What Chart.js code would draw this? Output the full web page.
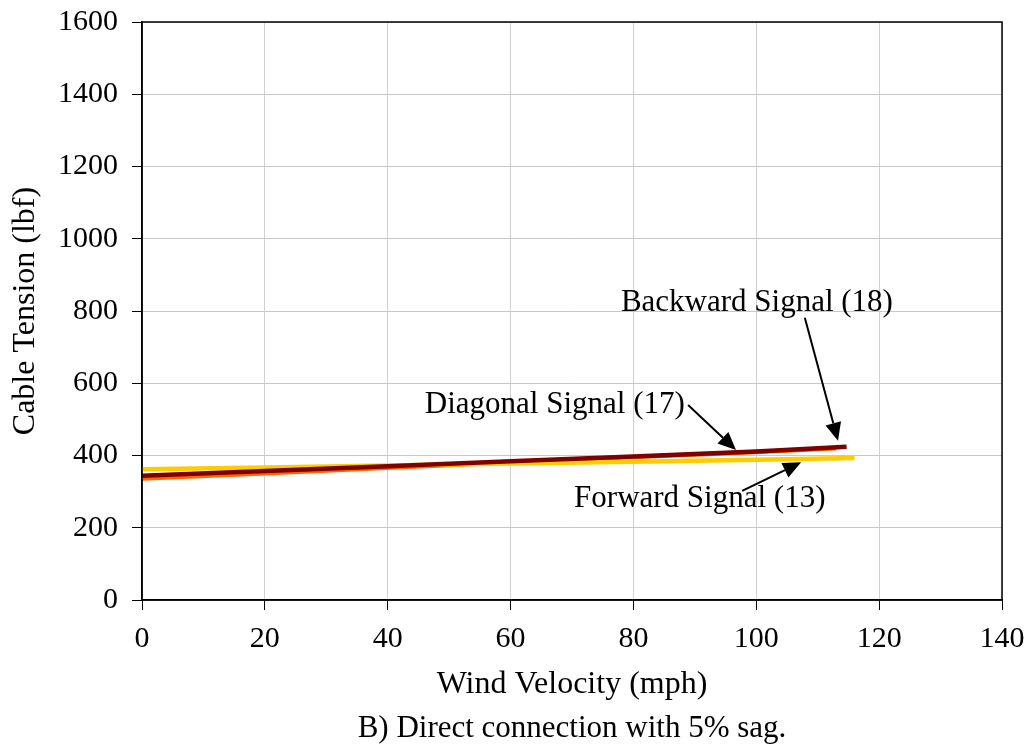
<!DOCTYPE html>
<html>
<head>
<meta charset="utf-8">
<script src="https://cdn.jsdelivr.net/npm/chart.js@4/dist/chart.umd.min.js"></script>
<style>
  html, body { margin: 0; padding: 0; background: #fff; }
  #wrap { width: 1030px; height: 747px; }
</style>
</head>
<body>
<div id="wrap"><canvas id="tensionChart" width="1030" height="747"></canvas></div>
<script>
// values (wind velocity mph -> cable tension lbf)
const forwardX = [0, 20, 40, 60, 80, 100, 116];
const forwardY = [362, 367, 372, 378, 383, 388, 393];
const diagonalX = [0, 20, 40, 60, 80, 100, 113];
const diagonalY = [336, 351, 366, 381, 396, 410, 420];
const backwardX = [0, 20, 40, 60, 80, 100, 114.7];
const backwardY = [344, 357, 370, 384, 397, 411, 424];

const xTicks = [0, 20, 40, 60, 80, 100, 120, 140];
const yTicks = [0, 200, 400, 600, 800, 1000, 1200, 1400, 1600];

// callouts: text anchor, arrow start, arrow tip (data units)
const callouts = [
    { text: 'Backward Signal (18)', tx: 100.1, ty: 822, from: [107.9, 781], to: [113.3, 441] },
    { text: 'Diagonal Signal (17)', tx: 67.2, ty: 540, from: [88.9, 540], to: [96.7, 415] },
    { text: 'Forward Signal (13)', tx: 90.8, ty: 280, from: [97.7, 302], to: [107.3, 381] }
];
const caption = 'B) Direct connection with 5% sag.';

function pts(xs, ys) {
    return xs.map((x, i) => ({ x: x, y: ys[i] }));
}

const FONT = '"Liberation Serif", "Times New Roman", serif';
const FS = 31;

// frame round the plot, arrow callouts and the caption under the chart
const extras = {
    id: 'extras',
    afterDatasetsDraw(chart) {
        const ctx = chart.ctx;
        const a = chart.chartArea;
        const xs = chart.scales.x, ys = chart.scales.y;
        ctx.save();
        ctx.strokeStyle = '#000';
        ctx.lineWidth = 1.5;
        ctx.strokeRect(a.left, a.top, a.right - a.left, a.bottom - a.top);

        ctx.font = FS + 'px ' + FONT;
        ctx.fillStyle = '#000';
        ctx.textAlign = 'center';
        ctx.textBaseline = 'middle';
        callouts.forEach(c => {
            ctx.fillText(c.text, xs.getPixelForValue(c.tx), ys.getPixelForValue(c.ty));
            const x1 = xs.getPixelForValue(c.from[0]), y1 = ys.getPixelForValue(c.from[1]);
            const x2 = xs.getPixelForValue(c.to[0]), y2 = ys.getPixelForValue(c.to[1]);
            const ang = Math.atan2(y2 - y1, x2 - x1);
            const head = 18, half = 8;
            const bx = x2 - head * Math.cos(ang), by = y2 - head * Math.sin(ang);
            ctx.lineWidth = 2;
            ctx.beginPath();
            ctx.moveTo(x1, y1);
            ctx.lineTo(bx, by);
            ctx.stroke();
            ctx.beginPath();
            ctx.moveTo(x2, y2);
            ctx.lineTo(bx + half * Math.sin(ang), by - half * Math.cos(ang));
            ctx.lineTo(bx - half * Math.sin(ang), by + half * Math.cos(ang));
            ctx.closePath();
            ctx.fill();
        });

        ctx.textBaseline = 'alphabetic';
        ctx.fillText(caption, (a.left + a.right) / 2, 737);
        ctx.restore();
    }
};

const ctx = document.getElementById('tensionChart').getContext('2d');
const tensionChart = new Chart(ctx, {
    type: 'line',
    data: {
        datasets: [
            { label: 'Diagonal Signal (17)', data: pts(diagonalX, diagonalY), borderColor: '#ff6600', borderWidth: 4.5, pointRadius: 0, fill: false, order: 2 },
            { label: 'Forward Signal (13)', data: pts(forwardX, forwardY), borderColor: '#ffcc00', borderWidth: 4.5, pointRadius: 0, fill: false, order: 1 },
            { label: 'Backward Signal (18)', data: pts(backwardX, backwardY), borderColor: '#800000', borderWidth: 4.5, pointRadius: 0, fill: false, order: 0 }
        ]
    },
    options: {
        responsive: false,
        animation: false,
        layout: { padding: { left: 0, right: 28, top: 22, bottom: 46 } },
        plugins: {
            legend: { display: false },
            tooltip: { enabled: false }
        },
        scales: {
            x: {
                type: 'linear',
                min: 0,
                max: 140,
                afterBuildTicks(s) { s.ticks = xTicks.map(v => ({ value: v })); },
                afterFit(s) { s.height = 101; s.paddingLeft = 0; s.paddingRight = 0; },
                grid: { color: '#d0d0d0', lineWidth: 1, tickColor: '#000', tickLength: 10, drawTicks: true },
                border: { color: '#000', width: 1.5 },
                ticks: { color: '#000', font: { family: FONT, size: FS - 1, lineHeight: 1 }, padding: 14, maxRotation: 0, callback: v => String(v) },
                title: {
                    display: true,
                    text: 'Wind Velocity (mph)',
                    color: '#000',
                    font: { family: FONT, size: FS + 1, lineHeight: 1 },
                    padding: { top: 0, bottom: 0 }
                }
            },
            y: {
                min: 0,
                max: 1600,
                afterBuildTicks(s) { s.ticks = yTicks.map(v => ({ value: v })); },
                afterFit(s) { s.width = 142; s.paddingTop = 0; s.paddingBottom = 0; },
                grid: { color: '#c8c8c8', lineWidth: 1, tickColor: '#000', tickLength: 10, drawTicks: true },
                border: { color: '#000', width: 1.5 },
                ticks: { color: '#000', font: { family: FONT, size: FS - 1, lineHeight: 1 }, padding: 14, callback: v => String(v) },
                title: {
                    display: true,
                    text: 'Cable Tension (lbf)',
                    color: '#000',
                    font: { family: FONT, size: FS + 1, lineHeight: 1 },
                    padding: { top: 10, bottom: 0 }
                }
            }
        }
    },
    plugins: [extras]
});
</script>
</body>
</html>
